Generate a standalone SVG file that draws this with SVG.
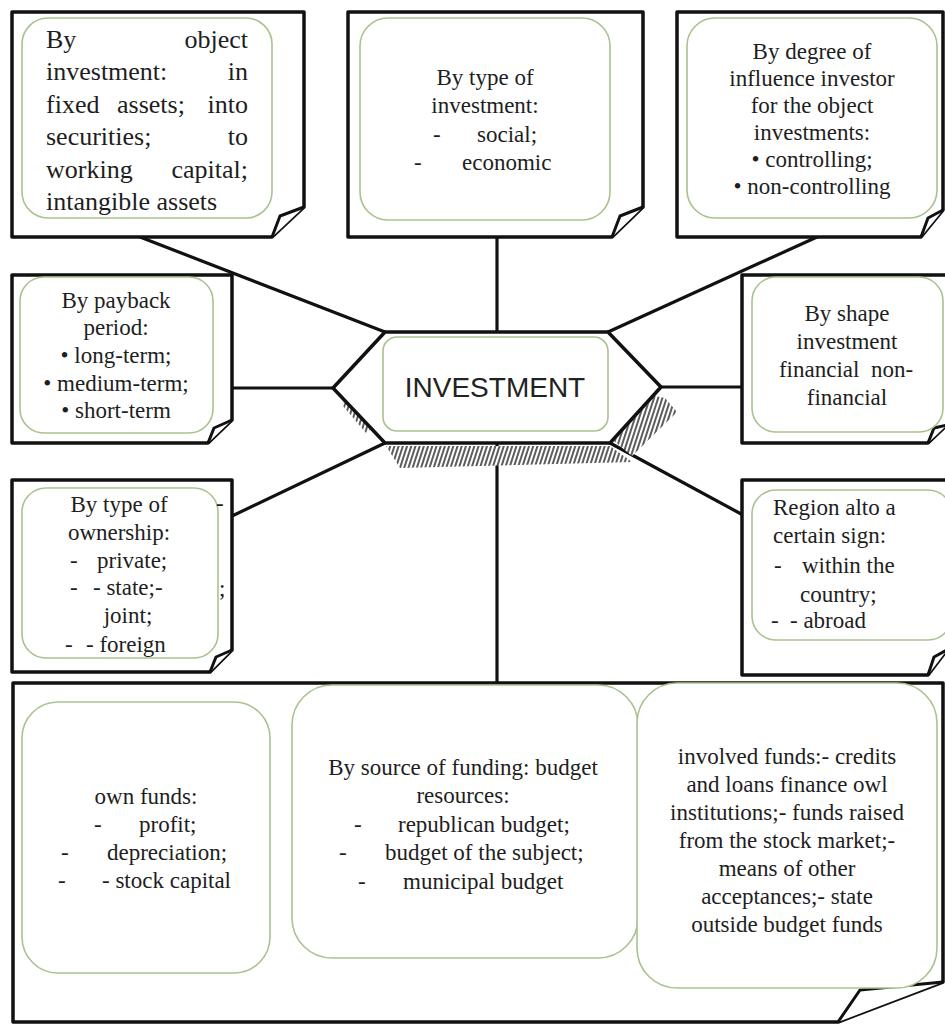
<svg xmlns="http://www.w3.org/2000/svg" width="945" height="1024" viewBox="0 0 945 1024">
<style>
.box{fill:#fff;stroke:#111;stroke-width:3.5;stroke-linejoin:round}
.fold{fill:#fff;stroke:#111;stroke-width:3;stroke-linejoin:round}
.in{fill:#fff;stroke:#a9c28f;stroke-width:1.6}
.t{font-size:23px;fill:#1e1e1e}
.c{text-anchor:middle}
.e{text-anchor:end}
.big{font-size:26px}
.con{stroke:#111;stroke-width:3.2;fill:none;stroke-linecap:round}
</style>
<defs>
<pattern id="hatch" patternUnits="userSpaceOnUse" width="4" height="8" patternTransform="rotate(18)">
<rect width="4" height="8" fill="#fff"/>
<line x1="1" y1="0" x2="1" y2="8" stroke="#333" stroke-width="1.6"/>
</pattern>
</defs>
<rect width="945" height="1024" fill="#fff"/>

<g id="connectors">
<line class="con" x1="140" y1="237" x2="385" y2="332"/>
<line class="con" x1="497" y1="237" x2="497" y2="332"/>
<line class="con" x1="817" y1="237" x2="608" y2="332"/>
<line class="con" x1="232" y1="388" x2="333" y2="388"/>
<line class="con" x1="661" y1="387" x2="743" y2="387"/>
<line class="con" x1="232" y1="516" x2="385" y2="443"/>
<line class="con" x1="610" y1="443" x2="743" y2="515"/>
<line class="con" x1="497" y1="443" x2="497" y2="683"/>
</g>

<g id="center">
<polygon points="386,446 610,446 632,462 400,468" fill="url(#hatch)"/>
<polygon points="614,441 655,396 665,398 677,412 632,456" fill="url(#hatch)"/>
<polygon points="346,400 372,428 366,433 343,406" fill="url(#hatch)"/>
<polygon class="box" points="385,332 608,332 661,387 610,443 385,443 333,388"/>
<rect class="in" x="383" y="337" width="225" height="94" rx="14"/>
<text x="495" y="397" text-anchor="middle" font-family="Liberation Sans, Arial, sans-serif" font-size="28" fill="#222">INVESTMENT</text>
</g>

<g font-family="Liberation Serif, DejaVu Serif, serif">
<g id="n-object">
<path class="box" d="M12,12 H304 V207 L272,237 H12 Z"/>
<path class="fold" d="M272,237 L280,216 L304,207"/>
<rect class="in" x="22" y="18" width="250" height="200" rx="26"/>
<text class="t big" x="46" y="48">By</text><text class="t big e" x="248" y="48">object</text>
<text class="t big" x="46" y="80">investment:</text><text class="t big e" x="248" y="80">in</text>
<text class="t big" x="46" y="113">fixed</text><text class="t big c" x="151" y="113">assets;</text><text class="t big e" x="248" y="113">into</text>
<text class="t big" x="46" y="145">securities;</text><text class="t big e" x="248" y="145">to</text>
<text class="t big" x="46" y="178">working</text><text class="t big e" x="248" y="178">capital;</text>
<text class="t big" x="46" y="210">intangible assets</text>
</g>

<g id="n-type">
<path class="box" d="M348,12 H643 V207 L612,237 H348 Z"/>
<path class="fold" d="M612,237 L620,216 L643,207"/>
<rect class="in" x="360" y="18" width="250" height="202" rx="28"/>
<text class="t c" x="485" y="85">By type of</text>
<text class="t c" x="485" y="113">investment:</text>
<text class="t" x="433" y="142">-</text><text class="t" x="477" y="142">social;</text>
<text class="t" x="414" y="170">-</text><text class="t" x="462" y="170">economic</text>
</g>

<g id="n-degree">
<path class="box" d="M677,12 H943 V210 L921,237 H677 Z"/>
<path class="fold" d="M921,237 L928,218 L943,210"/>
<rect class="in" x="687" y="18" width="250" height="200" rx="28"/>
<text class="t c" x="812" y="59">By degree of</text>
<text class="t c" x="812" y="86">influence investor</text>
<text class="t c" x="812" y="113">for the object</text>
<text class="t c" x="812" y="140">investments:</text>
<text class="t c" x="812" y="167">• controlling;</text>
<text class="t c" x="812" y="194">• non-controlling</text>
</g>

<g id="n-payback">
<path class="box" d="M12,275 H232 V420 L208,443 H12 Z"/>
<path class="fold" d="M208,443 L214,428 L232,420"/>
<rect class="in" x="20" y="277" width="193" height="156" rx="24"/>
<text class="t c" x="116" y="308">By payback</text>
<text class="t c" x="116" y="335">period:</text>
<text class="t c" x="116" y="363">• long-term;</text>
<text class="t c" x="116" y="391">• medium-term;</text>
<text class="t c" x="116" y="418">• short-term</text>
</g>

<g id="n-ownership">
<path class="box" d="M12,480 H232 V650 L210,672 H12 Z"/>
<path class="fold" d="M210,672 L216,657 L232,650"/>
<rect class="in" x="22" y="488" width="196" height="170" rx="24"/>
<text class="t" x="216" y="511">-</text>
<text class="t" x="219" y="596">;</text>
<text class="t c" x="119" y="512">By type of</text>
<text class="t c" x="119" y="540">ownership:</text>
<text class="t" x="70" y="568">-</text><text class="t" x="97" y="568">private;</text>
<text class="t" x="70" y="595">-</text><text class="t" x="93" y="595">- state;-</text>
<text class="t c" x="128" y="623">joint;</text>
<text class="t" x="65" y="652">-</text><text class="t" x="86" y="652">- foreign</text>
</g>

<g id="n-shape">
<path class="box" d="M742,275 H947 V425 L928,443 H742 Z"/>
<path class="fold" d="M928,443 L934,428 L947,425"/>
<rect class="in" x="752" y="277" width="191" height="155" rx="24"/>
<text class="t c" x="847" y="321">By shape</text>
<text class="t c" x="847" y="349">investment</text>
<text class="t c" x="846" y="377" xml:space="preserve">financial  non-</text>
<text class="t c" x="847" y="405">financial</text>
</g>

<g id="n-region">
<path class="box" d="M742,480 H947 V650 L928,675 H742 Z"/>
<path class="fold" d="M928,675 L934,657 L947,650"/>
<rect class="in" x="752" y="490" width="200" height="150" rx="24"/>
<text class="t" x="773" y="515">Region alto a</text>
<text class="t" x="773" y="543">certain sign:</text>
<text class="t" x="774" y="573">-</text><text class="t" x="802" y="573">within the</text>
<text class="t" x="800" y="602">country;</text>
<text class="t" x="771" y="628">-</text><text class="t" x="790" y="628">- abroad</text>
</g>

<g id="n-funding">
<path class="box" d="M13,683 H943 V982 L838,1022 H13 Z"/>
<path class="fold" d="M838,1022 L860,990 L943,982"/>
<rect class="in" x="22" y="702" width="248" height="271" rx="36"/>
<text class="t c" x="146" y="804">own funds:</text>
<text class="t" x="94" y="832">-</text><text class="t" x="139" y="832">profit;</text>
<text class="t" x="61" y="860">-</text><text class="t" x="107" y="860">depreciation;</text>
<text class="t" x="58" y="888">-</text><text class="t" x="102" y="888">- stock capital</text>
<rect class="in" x="292" y="685" width="346" height="273" rx="40"/>
<text class="t c" x="463" y="775">By source of funding: budget</text>
<text class="t c" x="463" y="803">resources:</text>
<text class="t" x="354" y="832">-</text><text class="t" x="398" y="832">republican budget;</text>
<text class="t" x="339" y="860">-</text><text class="t" x="385" y="860">budget of the subject;</text>
<text class="t" x="358" y="889">-</text><text class="t" x="403" y="889">municipal budget</text>
<rect class="in" x="637" y="683" width="300" height="305" rx="40"/>
<text class="t c" x="787" y="764">involved funds:- credits</text>
<text class="t c" x="787" y="792">and loans finance owl</text>
<text class="t c" x="787" y="820">institutions;- funds raised</text>
<text class="t c" x="787" y="848">from the stock market;-</text>
<text class="t c" x="787" y="876">means of other</text>
<text class="t c" x="787" y="904">acceptances;- state</text>
<text class="t c" x="787" y="932">outside budget funds</text>
</g>
</g>
</svg>
